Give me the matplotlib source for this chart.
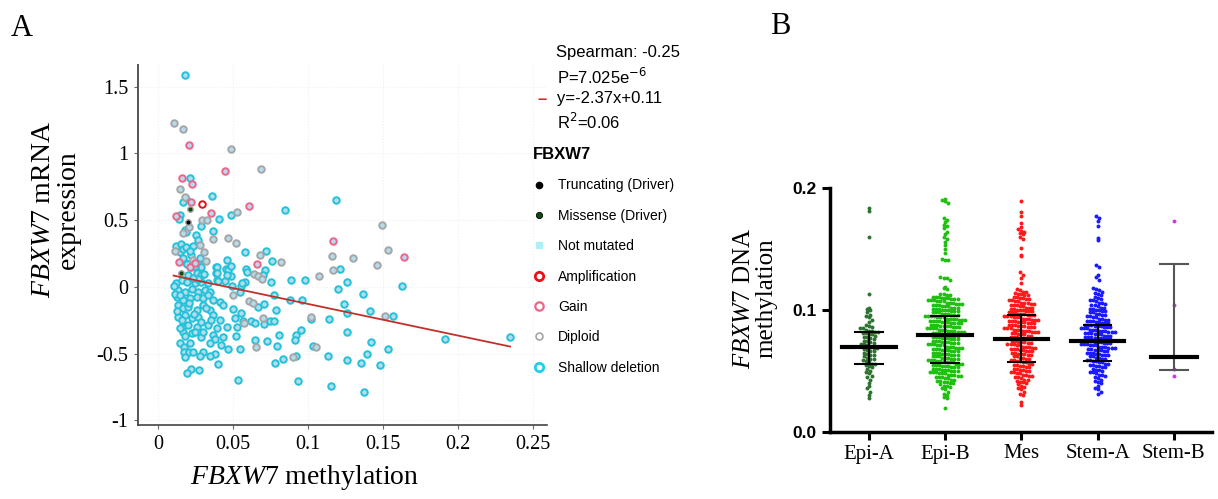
import numpy as np
import matplotlib
matplotlib.use('Agg')
import matplotlib.pyplot as plt
from matplotlib.lines import Line2D

plt.rcParams['font.family'] = ['Liberation Serif', 'DejaVu Sans']
plt.rcParams['mathtext.fontset'] = 'custom'
plt.rcParams['mathtext.rm'] = 'Liberation Serif'
plt.rcParams['mathtext.it'] = 'Liberation Serif:italic'

# ---------------- panel A data (methylation, mRNA expression) ----------------
shallow_pts = np.array([
    (0.0178, 1.59), (0.0213, 0.82), (0.0358, 0.68), (0.019, 0.66), (0.0167, 0.64),
    (0.119, 0.655), (0.085, 0.575), (0.0144, 0.54), (0.0138, 0.51), (0.0487, 0.54),
    (0.0404, 0.51), (0.0284, 0.4575), (0.0178, 0.425), (0.019, 0.41), (0.037, 0.42),
    (0.0256, 0.3875), (0.0267, 0.35), (0.0122, 0.305), (0.0156, 0.325), (0.0144, 0.2625),
    (0.0167, 0.2875), (0.019, 0.30), (0.0233, 0.31), (0.022, 0.2375), (0.0578, 0.265),
    (0.0718, 0.2675), (0.0762, 0.195), (0.046, 0.205), (0.0389, 0.15), (0.0389, 0.1075),
    (0.0453, 0.1375), (0.0467, 0.125), (0.0489, 0.0825), (0.0444, 0.045), (0.0393, 0.05),
    (0.0184, 0.18), (0.0273, 0.155), (0.0711, 0.125), (0.07, 0.0925), (0.0756, 0.04),
    (0.0584, 0.135), (0.0593, 0.11), (0.058, 0.0375), (0.0556, 0.005), (0.0493, 0.005),
    (0.0544, -0.04), (0.0884, 0.0525), (0.0978, 0.0525), (0.1213, 0.1325), (0.1262, 0.0375),
    (0.1202, -0.0175), (0.1624, 0.0075), (0.1364, -0.05), (0.0878, -0.095), (0.0962, -0.095),
    (0.0771, -0.0575), (0.0669, -0.15), (0.0707, -0.125), (0.0784, -0.175), (0.1242, -0.125),
    (0.1258, -0.1975), (0.1411, -0.1825), (0.1567, -0.2175), (0.102, -0.24), (0.1142, -0.2375),
    (0.0704, -0.275), (0.0744, -0.255), (0.0771, -0.255), (0.062, -0.2575), (0.0567, -0.255),
    (0.0551, -0.1925), (0.05, -0.1675), (0.0953, -0.32), (0.0918, -0.3625), (0.0913, -0.395),
    (0.0809, -0.3625), (0.0729, -0.405), (0.0649, -0.4), (0.0796, -0.445), (0.1036, -0.44),
    (0.1258, -0.3375), (0.1418, -0.41), (0.1531, -0.4625), (0.1396, -0.5025), (0.1133, -0.515),
    (0.0922, -0.52), (0.0831, -0.5375), (0.0782, -0.57), (0.1258, -0.545), (0.1353, -0.5675),
    (0.148, -0.5875), (0.1911, -0.39), (0.2347, -0.3775), (0.0533, -0.70), (0.0931, -0.7025),
    (0.1153, -0.74), (0.1371, -0.785), (0.052, -0.3675), (0.0549, -0.4625), (0.0467, -0.4675),
    (0.042, -0.4375),
    # dense cluster at low methylation
    (0.0191, 0.172), (0.022, 0.147), (0.0269, 0.177), (0.029, 0.147), (0.0391, 0.152),
    (0.0487, 0.157), (0.0202, 0.09), (0.0258, 0.102), (0.029, 0.09), (0.0391, 0.102),
    (0.0458, 0.09), (0.0118, 0.0275), (0.0158, 0.052), (0.0191, 0.04), (0.0247, 0.027),
    (0.029, 0.04), (0.0336, 0.027), (0.0402, 0.047), (0.0558, 0.027), (0.0136, -0.0225),
    (0.018, -0.035), (0.0224, -0.017), (0.0269, -0.035), (0.0313, -0.0225), (0.0347, -0.035),
    (0.0124, -0.072), (0.0169, -0.097), (0.0213, -0.085), (0.0258, -0.072), (0.0302, -0.085),
    (0.0369, -0.097), (0.0413, -0.11), (0.0131, -0.135), (0.0169, -0.16), (0.0202, -0.147),
    (0.0258, -0.172), (0.0302, -0.135), (0.0347, -0.172), (0.0436, -0.135), (0.0136, -0.222),
    (0.018, -0.21), (0.0224, -0.235), (0.0269, -0.222), (0.0369, -0.21), (0.0413, -0.247),
    (0.0513, -0.235), (0.0647, -0.272), (0.0158, -0.297), (0.0202, -0.285), (0.0258, -0.297),
    (0.0336, -0.285), (0.0391, -0.31), (0.0458, -0.297), (0.0524, -0.297), (0.0224, -0.347),
    (0.029, -0.372), (0.0369, -0.36), (0.0436, -0.372), (0.0169, -0.335), (0.0247, -0.335),
    (0.0302, -0.335), (0.018, -0.367), (0.0147, -0.422), (0.0213, -0.417), (0.0347, -0.422),
    (0.038, -0.392), (0.0176, -0.447), (0.0176, -0.485), (0.0207, -0.485), (0.0236, -0.485),
    (0.0302, -0.485), (0.038, -0.502), (0.018, -0.522), (0.028, -0.517), (0.0347, -0.517),
    (0.0398, -0.577), (0.022, -0.617), (0.0276, -0.622), (0.0196, -0.647),
    (0.011, 0.01), (0.0115, -0.05), (0.015, -0.06), (0.0125, -0.18), (0.016, -0.25),
    (0.0145, -0.31), (0.021, -0.12), (0.024, -0.2), (0.027, 0.06), (0.032, -0.16),
    (0.0355, -0.25), (0.0285, -0.26), (0.0335, -0.06), (0.0235, 0.07), (0.031, 0.1),
    (0.0165, 0.22), (0.0215, 0.27), (0.028, 0.22), (0.025, 0.155),
])
gain_pts = np.array([
    (0.0204, 1.06), (0.0447, 0.87), (0.016, 0.82), (0.023, 0.77), (0.022, 0.64),
    (0.061, 0.61), (0.0118, 0.53), (0.0351, 0.555), (0.014, 0.1875), (0.0211, 0.15),
    (0.0244, 0.18), (0.066, 0.175), (0.1167, 0.345), (0.164, 0.225),
])
amp_pts = np.array([(0.0293, 0.625)])
diploid_pts = np.array([
    (0.0104, 1.23), (0.0164, 1.18), (0.0487, 1.03), (0.0689, 0.885), (0.0149, 0.735),
    (0.0178, 0.675), (0.0296, 0.505), (0.0327, 0.505), (0.0527, 0.56), (0.021, 0.45),
    (0.017, 0.405), (0.037, 0.3575), (0.0467, 0.3675), (0.052, 0.3325), (0.0116, 0.2675),
    (0.0278, 0.3125), (0.031, 0.2625), (0.0678, 0.2375), (0.0818, 0.185), (0.0233, 0.2),
    (0.0318, 0.1925), (0.0638, 0.095), (0.0667, 0.085), (0.0693, 0.06), (0.05, -0.0575),
    (0.1071, 0.0825), (0.116, 0.23), (0.13, 0.22), (0.1167, 0.13), (0.1458, 0.1675),
    (0.1496, 0.4625), (0.1531, 0.275), (0.0604, -0.105), (0.0633, -0.1175), (0.1511, -0.2175),
    (0.1018, -0.225), (0.0698, -0.23), (0.0571, -0.27), (0.0656, -0.45), (0.1051, -0.45),
    (0.09, -0.5275),
])
trunc_pts = np.array([(0.0198, 0.49)])
missense_pts = np.array([(0.0211, 0.5875), (0.0153, 0.1025)])
fit_slope, fit_intercept = -2.37, 0.11

# ---------------- panel B data (DNA methylation per subtype, per-mille) ----------------
groups = ['Epi-A', 'Epi-B', 'Mes', 'Stem-A', 'Stem-B']
colors_b = ['#2e7430', '#20c010', '#ff1a1a', '#1a1aff', '#c83cdc']

epi_a_lv = [184, 181, 160, 113, 102, 101, 100, 98, 96, 95,
            94, 92, 90, 88, 87, 86, 85, 84, 83, 82,
            81, 80, 79, 78, 77, 76, 75, 74, 73, 72,
            71, 70, 69, 68, 67, 66, 65, 64, 63, 62,
            61, 60, 59, 58, 57, 56, 55, 54, 53, 52,
            50, 49, 48, 46, 45, 43, 40, 38, 36, 33,
            30, 28]
epi_a_n = [1, 1, 1, 1, 1, 1, 1, 1, 1, 1,
           1, 1, 1, 1, 1, 1, 2, 1, 2, 2,
           2, 2, 1, 2, 1, 1, 2, 1, 1, 2,
           1, 1, 2, 1, 1, 2, 1, 1, 2, 1,
           1, 2, 1, 1, 1, 2, 1, 1, 1, 1,
           1, 1, 1, 1, 1, 1, 1, 1, 1, 1,
           1, 1]

epi_b_lv = [191, 190, 189, 188, 175, 174, 172, 170, 169, 167,
            164, 162, 160, 158, 156, 153, 150, 147, 142, 141,
            127, 126, 125, 119, 118, 117,
            113, 112, 111, 110, 109, 108, 107, 106, 105, 104,
            103, 102, 101, 100, 99, 98, 97, 96, 95, 94,
            93, 92, 91, 90, 89, 88, 87, 86, 85, 84,
            83, 82, 81, 80, 79, 78, 77, 76, 75, 74,
            73, 72, 71, 70, 69, 68, 67, 66, 65, 64,
            63, 62, 61, 60, 59, 58, 57, 56, 55, 54,
            53, 52, 51, 50, 49, 48, 47, 46, 45, 44,
            43, 42, 41, 40,
            39, 38, 37, 36, 35, 33, 31, 30, 29, 28, 20]
epi_b_n = [1, 1, 1, 1, 1, 1, 1, 1, 1, 1,
           1, 1, 1, 1, 1, 1, 1, 1, 1, 2,
           1, 2, 1, 1, 1, 1,
           2, 2, 3, 3, 3, 3, 3, 3, 3, 3,
           3, 3, 3, 3, 3, 3, 3, 3, 4, 3,
           4, 3, 4, 3, 4, 3, 4, 3, 4, 3,
           3, 3, 3, 3, 3, 3, 3, 3, 3, 3,
           3, 3, 3, 3, 3, 3, 3, 3, 3, 3,
           3, 3, 3, 3, 3, 3, 3, 3, 3, 3,
           3, 3, 3, 3, 3, 3, 3, 2, 3, 2,
           2, 2, 2, 2,
           1, 2, 1, 1, 1, 1, 1, 1, 1, 1, 1]

mes_lv = [189, 180, 177, 171, 168, 166, 165, 164, 163, 162,
          160, 158, 151, 145, 144, 131, 129, 126, 122,
          117, 116, 115, 114, 113, 112, 111, 110, 109, 108,
          107, 106, 105, 104, 103, 102, 101, 100, 99, 98,
          97, 96, 95, 94, 93, 92, 91, 90, 89, 88,
          87, 86, 85, 84, 83, 82, 81, 80, 79, 78,
          77, 76, 75, 74, 73, 72, 71, 70, 69, 68,
          67, 66, 65, 64, 63, 62, 61, 60, 59, 58,
          57, 56, 55, 54, 53, 52, 51, 50, 49, 48,
          47, 46, 45, 44, 43, 42, 41, 40, 39, 38,
          37, 36, 35, 33, 31, 30, 25, 22]
mes_n = [1, 1, 1, 1, 1, 1, 1, 1, 1, 1,
         1, 1, 1, 1, 1, 1, 1, 1, 1,
         1, 1, 2, 1, 2, 2, 2, 2, 2, 2,
         2, 3, 2, 3, 2, 3, 2, 3, 3, 3,
         3, 3, 3, 3, 3, 3, 3, 3, 3, 3,
         3, 3, 3, 3, 3, 3, 2, 3, 2, 3,
         2, 3, 2, 3, 2, 3, 2, 3, 2, 3,
         2, 3, 2, 3, 2, 2, 2, 2, 2, 2,
         2, 2, 2, 2, 2, 2, 2, 2, 2, 2,
         2, 2, 2, 1, 2, 1, 2, 1, 1, 1,
         1, 1, 1, 1, 1, 1, 1, 1]

stem_a_lv = [177, 175, 173, 169, 159, 157, 137, 135, 129, 127,
             125, 118, 117, 116, 115, 114, 113, 112, 111,
             110, 109, 108, 107, 106, 105, 104, 103, 102, 101,
             100, 99, 98, 97, 96, 95, 94, 93, 92, 91,
             90, 89, 88, 87, 86, 85, 84, 83, 82, 81,
             80, 79, 78, 77, 76, 75, 74, 73, 72, 71,
             70, 69, 68, 67, 66, 65, 64, 63, 62, 61,
             60, 59, 58, 57, 56, 55, 54, 53, 52, 51,
             50, 49, 48, 47, 46, 45, 44, 43, 42, 41,
             40, 38, 36, 35, 33, 31]
stem_a_n = [1, 1, 1, 1, 1, 1, 1, 1, 1, 1,
            1, 1, 1, 1, 1, 1, 1, 1, 1,
            1, 1, 2, 1, 2, 1, 2, 1, 2, 2,
            2, 2, 2, 2, 2, 2, 2, 2, 2, 3,
            2, 3, 3, 3, 3, 3, 3, 3, 3, 3,
            3, 3, 3, 3, 3, 3, 3, 3, 3, 3,
            3, 3, 2, 3, 2, 3, 2, 3, 2, 2,
            2, 2, 2, 2, 2, 2, 2, 2, 1, 2,
            1, 2, 1, 2, 1, 1, 1, 1, 1, 1,
            1, 1, 1, 1, 1, 1]

stem_b_lv = [173, 104, 52, 46]
stem_b_n = [1, 1, 1, 1]

medians = [0.070, 0.0792, 0.076, 0.0749, 0.0615]
lower = [0.056, 0.0566, 0.0574, 0.0585, 0.0505]
upper = [0.082, 0.0954, 0.0962, 0.0874, 0.138]

levels_b = [epi_a_lv, epi_b_lv, mes_lv, stem_a_lv, stem_b_lv]
counts_b = [epi_a_n, epi_b_n, mes_n, stem_a_n, stem_b_n]


def row_offsets(vals, row_h, gap):
    # Prism-style: points binned into rows, laid side by side, centred
    rows = np.floor(vals / row_h).astype(int)
    off = np.zeros(len(vals))
    for r in np.unique(rows):
        idx = np.where(rows == r)[0]
        k = len(idx)
        off[idx] = (np.arange(k) - (k - 1) / 2.0) * gap
    return off


W, H = 1218, 499
fig = plt.figure(figsize=(W / 100, H / 100), dpi=100)

# ================= panel A =================
axA = fig.add_axes([138 / W, 1 - 425 / H, (547 - 138) / W, (425 - 65) / H])
face = '#b4dcee'
axA.scatter(shallow_pts[:, 0], shallow_pts[:, 1], s=22, facecolor=face,
            edgecolor='#22c2d8', linewidths=1.4, zorder=3)
axA.scatter(diploid_pts[:, 0], diploid_pts[:, 1], s=22, facecolor=face,
            edgecolor='#a6a6a6', linewidths=1.4, zorder=3)
axA.scatter(gain_pts[:, 0], gain_pts[:, 1], s=22, facecolor=face,
            edgecolor='#f0648a', linewidths=1.4, zorder=3)
axA.scatter(amp_pts[:, 0], amp_pts[:, 1], s=22, facecolor='#ffffff',
            edgecolor='#e8101a', linewidths=1.4, zorder=3)
axA.scatter(trunc_pts[:, 0], trunc_pts[:, 1], s=16, facecolor='black',
            edgecolor='#aaaaaa', linewidths=1.0, zorder=4)
axA.scatter(missense_pts[:, 0], missense_pts[:, 1], s=16, facecolor='#0b4d0b',
            edgecolor='#aaaaaa', linewidths=1.0, zorder=4)

all_x = np.concatenate([shallow_pts[:, 0], diploid_pts[:, 0], gain_pts[:, 0]])
fx = np.array([all_x.min(), all_x.max()])
axA.plot(fx, fit_slope * fx + fit_intercept, color='#c2302a', lw=1.3, zorder=5)

axA.set_xlim(-0.0133, 0.2593)
axA.set_ylim(-1.034, 1.663)
axA.set_xticks([0, 0.05, 0.1, 0.15, 0.2, 0.25])
axA.set_xticklabels(['0', '0.05', '0.1', '0.15', '0.2', '0.25'])
axA.set_yticks([-1, -0.5, 0, 0.5, 1, 1.5])
axA.set_yticklabels(['-1', '-0.5', '0', '0.5', '1', '1.5'])
axA.tick_params(labelsize=14.5, length=3, width=0.8, color='#666666', pad=4)
axA.grid(True, color='#f0f0f0', lw=0.8, ls=':')
axA.set_axisbelow(True)
for side in ['top', 'right']:
    axA.spines[side].set_visible(False)
axA.spines['left'].set_color('#555555')
axA.spines['left'].set_linewidth(1.4)
axA.spines['bottom'].set_color('#444444')
axA.spines['bottom'].set_linewidth(1.2)

fig.text(22 / W, 1 - 28 / H, 'A', fontsize=22, ha='center', va='center')
fig.text(56 / W, 1 - 210 / H, '$\\it{FBXW7}$ mRNA\nexpression', fontsize=20,
         rotation=90, ha='center', va='center', linespacing=1.0)
fig.text(305 / W, 1 - 478 / H, '$\\it{FBXW7}$ methylation', fontsize=20,
         ha='center', va='center')

# statistics block
sans = ['Liberation Sans', 'DejaVu Sans']
fig.text(556 / W, 1 - 52 / H, 'Spearman: -0.25', fontsize=12, family=sans, va='center')
fig.text(557 / W, 1 - 77 / H, 'P=7.025e$^{-6}$', fontsize=12, family=sans, va='center',
         math_fontfamily='dejavusans')
fig.text(538 / W, 1 - 99 / H, '–', fontsize=12, family=sans, va='center',
         color='#c2302a', fontweight='bold')
fig.text(557 / W, 1 - 99 / H, 'y=-2.37x+0.11', fontsize=12, family=sans, va='center')
fig.text(557 / W, 1 - 122 / H, 'R$^2$=0.06', fontsize=12, family=sans, va='center',
         math_fontfamily='dejavusans')

handles = [
    Line2D([], [], ls='none', marker='o', ms=4.5, mfc='black', mec='black'),
    Line2D([], [], ls='none', marker='o', ms=4.5, mfc='#0b4d0b', mec='black', mew=0.6),
    Line2D([], [], ls='none', marker='s', ms=4, mfc='#aef0f6', mec='#aef0f6'),
    Line2D([], [], ls='none', marker='o', ms=6, mfc='white', mec='#e8101a', mew=2),
    Line2D([], [], ls='none', marker='o', ms=6, mfc='white', mec='#f0648a', mew=1.6),
    Line2D([], [], ls='none', marker='o', ms=5, mfc='white', mec='#a6a6a6', mew=1.2),
    Line2D([], [], ls='none', marker='o', ms=6, mfc='white', mec='#1fd0e6', mew=2),
]
labels = ['Truncating (Driver)', 'Missense (Driver)', 'Not mutated', 'Amplification',
          'Gain', 'Diploid', 'Shallow deletion']
leg = fig.legend(handles, labels, loc='upper left', bbox_to_anchor=(533 / W, 1 - 147 / H),
                 frameon=False, prop={'family': 'Liberation Sans', 'size': 10},
                 title='FBXW7', title_fontproperties={'family': 'Liberation Sans',
                                                     'size': 12, 'weight': 'bold'},
                 alignment='left', labelspacing=1.18, handlelength=0.8,
                 handletextpad=1.0, borderpad=0, borderaxespad=0)

# ================= panel B =================
axB = fig.add_axes([830 / W, 1 - 432 / H, (1212 - 830) / W, (432 - 188) / H])
xpx = (1212 - 830) / 5.01
ypx = (432 - 188) / 0.2
for i, (lv, n) in enumerate(zip(levels_b, counts_b)):
    vals = np.repeat(np.array(lv, dtype=float), n) / 1000.0
    off = row_offsets(vals, 4.0 / ypx, 3.1 / xpx)
    axB.scatter(i + off, vals, s=8, color=colors_b[i], linewidths=0, zorder=3)

for i in range(len(groups)):
    ec = '#555555' if groups[i] == 'Stem-B' else 'black'
    hw = 0.30 if groups[i] == 'Stem-B' else 0.35
    axB.plot([i, i], [lower[i], upper[i]], color=ec, lw=1.5, zorder=4)
    axB.plot([i - 0.18, i + 0.18], [lower[i], lower[i]], color=ec, lw=1.5, zorder=4)
    axB.plot([i - 0.18, i + 0.18], [upper[i], upper[i]], color=ec, lw=1.5, zorder=4)
    axB.plot([i - hw, i + hw], [medians[i], medians[i]], color='black', lw=3, zorder=5)

axB.set_xlim(-0.51, 4.5)
axB.set_ylim(0, 0.2)
axB.set_xticks(range(len(groups)))
axB.set_xticklabels(groups, fontsize=15)
axB.set_yticks([0, 0.1, 0.2])
axB.set_yticklabels(['0.0', '0.1', '0.2'], fontsize=12.5, fontweight='bold',
                    family='Liberation Sans')
axB.tick_params(axis='both', length=6, width=2.2, direction='out')
axB.tick_params(axis='x', pad=3)
for side in ['top', 'right']:
    axB.spines[side].set_visible(False)
for side in ['left', 'bottom']:
    axB.spines[side].set_linewidth(2.5)

fig.text(780 / W, 1 - 27 / H, 'B', fontsize=22, ha='center', va='center')
fig.text(755 / W, 1 - 298 / H, '$\\it{FBXW7}$ DNA\nmethylation', fontsize=18,
         rotation=90, ha='center', va='center', linespacing=1.0)

fig.savefig('out.png', dpi=100)
